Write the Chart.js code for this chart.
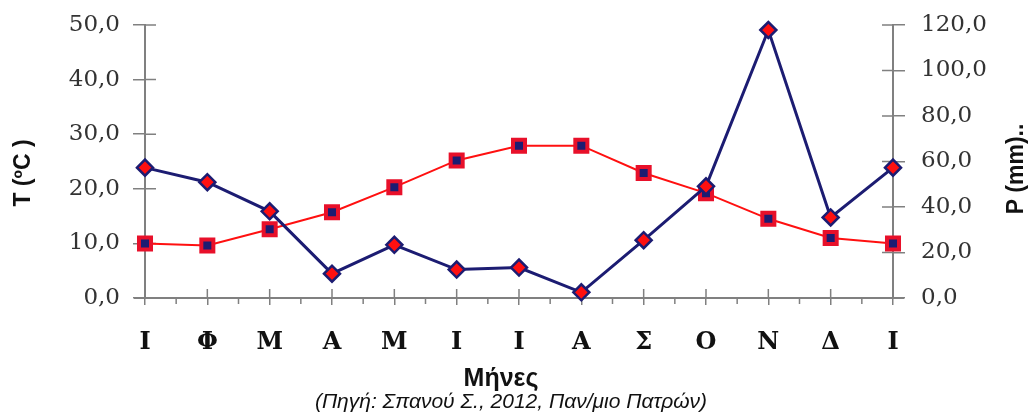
<!DOCTYPE html>
<html><head><meta charset="utf-8">
<script src="https://cdn.jsdelivr.net/npm/chart.js@4.4.1/dist/chart.umd.min.js"></script>
<style>html,body{margin:0;padding:0;background:#fff;overflow:hidden}</style>
</head><body>
<canvas id="c" width="1036" height="418"></canvas>
<script>
// ---- data ----
const months = ['Ι','Φ','Μ','Α','Μ','Ι','Ι','Α','Σ','Ο','Ν','Δ','Ι'];
const temperature = [10.0, 9.6, 12.6, 15.7, 20.3, 25.2, 27.9, 27.9, 22.9, 19.2, 14.5, 11.0, 10.0];
const precipitation = [57.3, 50.9, 38.1, 10.7, 23.4, 12.5, 13.4, 2.5, 25.4, 49.1, 117.8, 35.4, 57.3];
const tempRange = [0, 50];
const tempStep = 10;
const precipRange = [0, 120];
const precipStep = 20;
const leftTitle = 'T (ºC )';
const rightTitle = 'P (mm)..';
const xTitle = 'Μήνες';
const sourceNote = '(Πηγή: Σπανού Σ., 2012, Παν/μιο Πατρών)';

// ---- styles ----
const AXIS = '#808080';
const RED = '#ff1010';
const NAVY = '#1c1c72';
const fmt = v => Number(v).toFixed(1).replace('.', ',');
const tickFont = {family: "'DejaVu Serif', serif", size: 23};
const catFont = {family: "'DejaVu Serif', serif", size: 24, weight: 'bold'};

const decor = {
  id: 'decor',
  beforeDatasetsDraw(chart) {
    const {ctx, chartArea: a, scales} = chart;
    const yT = scales.yT, yP = scales.yP, x = scales.x;
    ctx.save();
    ctx.strokeStyle = AXIS;
    ctx.lineWidth = 1.5;
    ctx.beginPath();
    yT.ticks.forEach(t => { const y = yT.getPixelForValue(t.value); ctx.moveTo(a.left, y); ctx.lineTo(a.left + 11, y); });
    yP.ticks.forEach(t => { const y = yP.getPixelForValue(t.value); ctx.moveTo(a.right - 11, y); ctx.lineTo(a.right, y); });
    const n = x.ticks.length;
    for (let i = 0; i < n; i++) {
      const px = x.getPixelForTick(i);
      ctx.moveTo(px, a.bottom - 9); ctx.lineTo(px, a.bottom);
      if (i < n - 1) {
        const mid = (px + x.getPixelForTick(i + 1)) / 2;
        ctx.moveTo(mid, a.bottom); ctx.lineTo(mid, a.bottom + 6);
      }
    }
    ctx.stroke();
    ctx.lineWidth = 2;
    ctx.beginPath();
    ctx.moveTo(a.left - 11, a.bottom); ctx.lineTo(a.right + 11, a.bottom);
    ctx.stroke();
    ctx.restore();
  },
  afterDraw(chart) {
    const {ctx} = chart;
    ctx.save();
    ctx.fillStyle = '#111';
    ctx.textAlign = 'center';
    ctx.textBaseline = 'middle';
    ctx.font = "bold 23px 'Liberation Sans', Arial, sans-serif";
    ctx.save(); ctx.translate(24, 173); ctx.rotate(-Math.PI / 2); ctx.fillText(leftTitle, 0, 0); ctx.restore();
    ctx.save(); ctx.translate(1017, 169); ctx.rotate(-Math.PI / 2); ctx.fillText(rightTitle, 0, 0); ctx.restore();
    ctx.font = "bold 25px 'Liberation Sans', Arial, sans-serif";
    ctx.fillText(xTitle, 501, 379);
    ctx.font = "italic 21px 'Liberation Sans', Arial, sans-serif";
    ctx.fillText(sourceNote, 511, 402);
    ctx.restore();
  }
};

const fitY = w => s => { s.width = w; s.paddingTop = 0; s.paddingBottom = 0; };

new Chart(document.getElementById('c'), {
  type: 'line',
  data: {
    labels: months,
    datasets: [
      {
        label: 'P (mm)',
        data: precipitation,
        yAxisID: 'yP',
        borderColor: NAVY,
        borderWidth: 3,
        pointStyle: 'rectRot',
        pointRadius: 8,
        pointBackgroundColor: RED,
        pointBorderColor: NAVY,
        pointBorderWidth: 2.5,
        tension: 0,
        clip: false
      },
      {
        label: 'T (ºC)',
        data: temperature,
        yAxisID: 'yT',
        borderColor: RED,
        borderWidth: 2,
        pointStyle: 'rect',
        pointRadius: 8.5,
        pointBackgroundColor: NAVY,
        pointBorderColor: '#e8102a',
        pointBorderWidth: 4,
        tension: 0,
        clip: false
      }
    ]
  },
  options: {
    responsive: false,
    animation: false,
    devicePixelRatio: 1,
    layout: {padding: {top: 25, left: 0, right: 0, bottom: 0}},
    plugins: {legend: {display: false}, tooltip: {enabled: false}},
    scales: {
      x: {
        offset: false,
        grid: {drawOnChartArea: false, tickLength: 7, color: AXIS, lineWidth: 1.5},
        border: {color: AXIS, width: 2},
        ticks: {font: catFont, color: '#111', padding: 23, autoSkip: false, maxRotation: 0},
        afterFit(s) { s.height = 120; s.paddingLeft = 0; s.paddingRight = 0; }
      },
      yT: {
        position: 'left',
        min: tempRange[0], max: tempRange[1],
        grid: {drawOnChartArea: false, tickLength: 12, color: AXIS, lineWidth: 1.5},
        border: {color: AXIS, width: 2},
        ticks: {stepSize: tempStep, callback: fmt, font: tickFont, color: '#333', padding: 13},
        afterFit: fitY(145)
      },
      yP: {
        position: 'right',
        min: precipRange[0], max: precipRange[1],
        grid: {drawOnChartArea: false, tickLength: 12, color: AXIS, lineWidth: 1.5},
        border: {color: AXIS, width: 2},
        ticks: {stepSize: precipStep, callback: fmt, font: tickFont, color: '#333', padding: 16},
        afterFit: fitY(143)
      }
    }
  },
  plugins: [decor]
});
</script>
</body></html>
